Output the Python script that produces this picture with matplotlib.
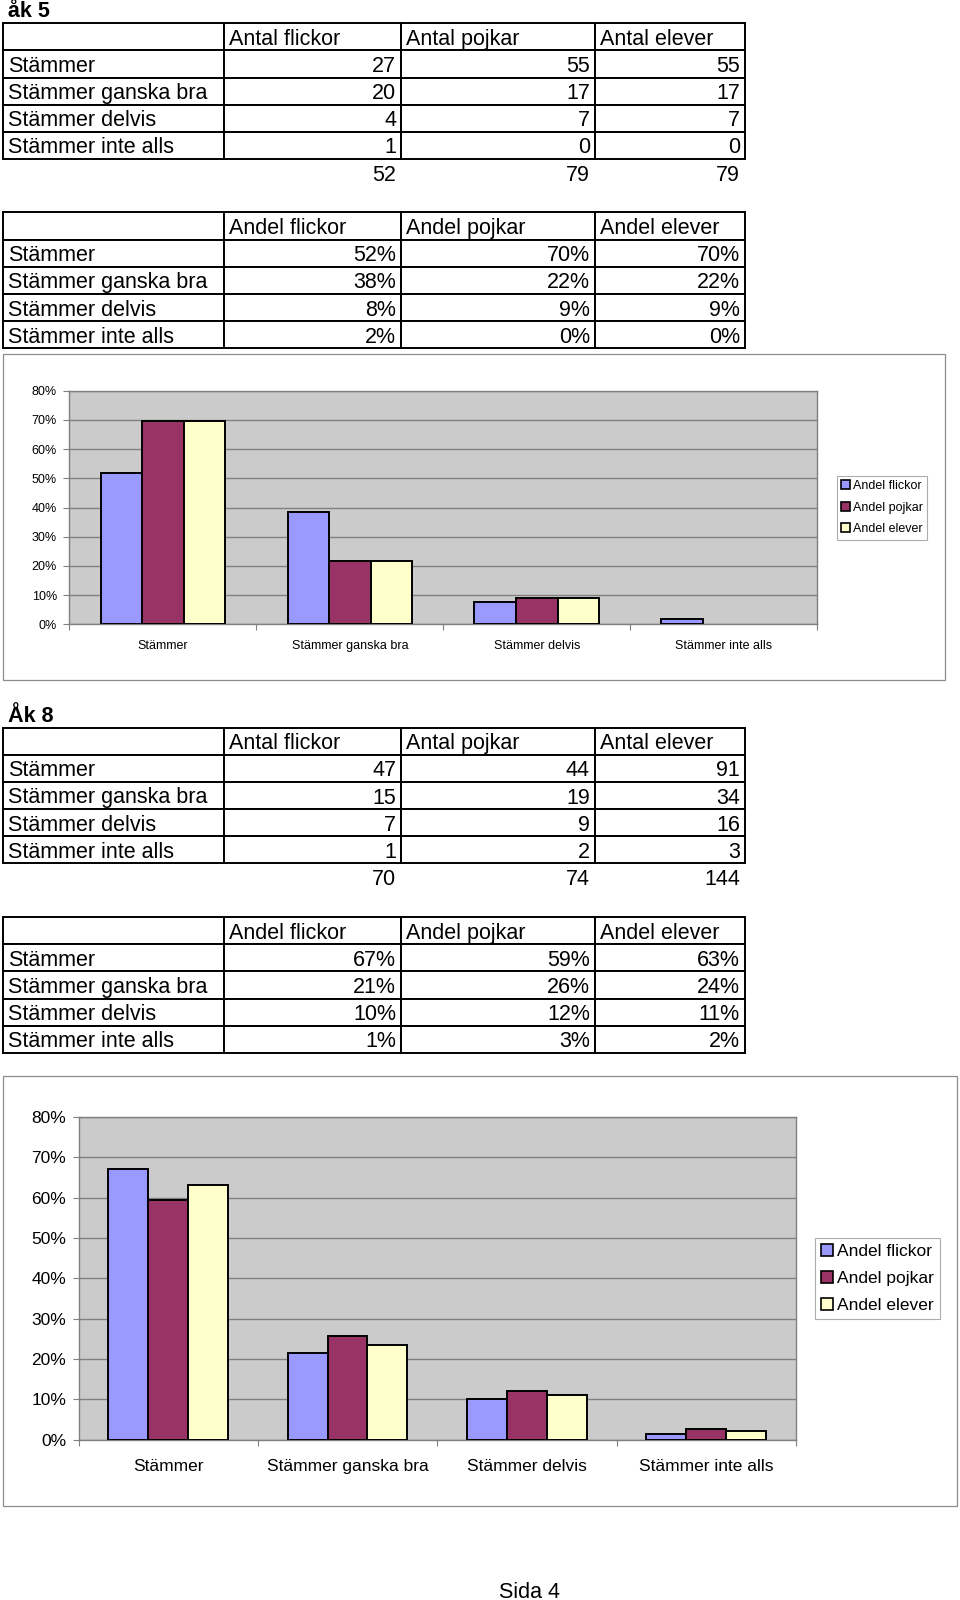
import matplotlib
matplotlib.use("Agg")
import matplotlib.pyplot as plt
import numpy as np
from matplotlib.patches import Rectangle
from matplotlib.table import Table
from matplotlib.ticker import PercentFormatter

plt.rcParams['font.family'] = ['Liberation Sans', 'DejaVu Sans']

# ---- data -------------------------------------------------------------
categories = ['Stämmer', 'Stämmer ganska bra', 'Stämmer delvis', 'Stämmer inte alls']
count_cols = ['Antal flickor', 'Antal pojkar', 'Antal elever']
share_cols = ['Andel flickor', 'Andel pojkar', 'Andel elever']

ak5_flickor = [27, 20, 4, 1]
ak5_pojkar = [55, 17, 7, 0]
ak5_elever = [55, 17, 7, 0]
ak5_totals = [52, 79, 79]

ak5_andel_flickor = [0.519, 0.384, 0.077, 0.019]
ak5_andel_pojkar = [0.696, 0.216, 0.089, 0.0]
ak5_andel_elever = [0.696, 0.216, 0.089, 0.0]

ak8_flickor = [47, 15, 7, 1]
ak8_pojkar = [44, 19, 9, 2]
ak8_elever = [91, 34, 16, 3]
ak8_totals = [70, 74, 144]

ak8_andel_flickor = [0.671, 0.214, 0.100, 0.014]
ak8_andel_pojkar = [0.594, 0.257, 0.122, 0.027]
ak8_andel_elever = [0.632, 0.236, 0.111, 0.021]

series_colors = ['#9999FF', '#993366', '#FFFFCC']

# ---- layout helpers (pixel coords, origin top-left) --------------------
W, H = 960, 1600
fig = plt.figure(figsize=(W / 100, H / 100), dpi=100)


def px_box(x0, y0, x1, y1):
    return [x0 / W, 1 - y1 / H, (x1 - x0) / W, (y1 - y0) / H]


bg = fig.add_axes([0, 0, 1, 1])
bg.set_xlim(0, W)
bg.set_ylim(H, 0)
bg.axis('off')

col_edges = [3, 224.4, 401, 594.8, 744.8]
col_widths = np.diff(col_edges)
TABLE_FS = 15.5


def draw_table(y0, row_h, header, columns, fmt, totals=None):
    nrows = 5 + (1 if totals is not None else 0)
    y1 = y0 + row_h * nrows
    ax = fig.add_axes(px_box(col_edges[0], y0, col_edges[-1], y1))
    ax.axis('off')
    tbl = Table(ax, bbox=[0, 0, 1, 1])
    wfrac = col_widths / col_widths.sum()
    h = 1 / nrows

    def add(r, c, text, loc, edges='closed'):
        cell = tbl.add_cell(r, c, wfrac[c], h, text=text, loc=loc,
                            edgecolor='black')
        cell.visible_edges = edges
        cell.PAD = 5 / col_widths[c]
        cell.set_linewidth(1.4)
        cell.get_text().set_va('center_baseline')
        return cell

    add(0, 0, '', 'left')
    for c, name in enumerate(header):
        add(0, c + 1, name, 'left')
    for r, cat in enumerate(categories):
        add(r + 1, 0, cat, 'left')
        for c, col in enumerate(columns):
            add(r + 1, c + 1, fmt(col[r]), 'right')
    if totals is not None:
        add(5, 0, '', 'left', 'open')
        for c, t in enumerate(totals):
            add(5, c + 1, str(t), 'right', 'open')
    tbl.auto_set_font_size(False)
    tbl.set_fontsize(TABLE_FS)
    ax.add_table(tbl)


def draw_chart(frame, plot, leg_center, shares, fs, xpad, leg_spacing):
    fx0, fy0, fx1, fy1 = frame
    bg.add_patch(Rectangle((fx0, fy0), fx1 - fx0, fy1 - fy0, fill=False,
                           ec='#8c8c8c', lw=0.9))
    ax = fig.add_axes(px_box(*plot))
    ax.set_facecolor('#cbcbcb')
    bw = 1 / 4.5
    x = np.arange(len(categories)) + 0.5
    for k, (vals, color, label) in enumerate(zip(shares, series_colors, share_cols)):
        lws = [1.4 if v > 0 else 0 for v in vals]
        ax.bar(x + (k - 1) * bw, vals, bw, color=color, edgecolor='black',
               linewidth=lws, label=label, zorder=3)
    ax.set_xlim(0, 4)
    ax.set_ylim(0, 0.8)
    ax.set_yticks(np.arange(0, 0.81, 0.1))
    ax.yaxis.set_major_formatter(PercentFormatter(1.0, decimals=0))
    ax.grid(axis='y', color='#808080', lw=1.0, zorder=1)
    ax.set_axisbelow(True)
    ax.set_xticks(range(5))
    ax.set_xticklabels([])
    ax.set_xticks(x, minor=True)
    ax.set_xticklabels(categories, minor=True)
    ax.tick_params(axis='x', which='minor', length=0, pad=xpad, labelsize=fs)
    ax.tick_params(axis='both', which='major', length=4, color='#808080',
                   direction='out', labelsize=fs, pad=5)
    for sp in ax.spines.values():
        sp.set_color('#808080')
        sp.set_linewidth(1.0)
    leg = ax.legend(loc='center', bbox_to_anchor=(leg_center[0] / W, 1 - leg_center[1] / H),
                    bbox_transform=fig.transFigure, fontsize=fs, frameon=True,
                    fancybox=False, edgecolor='#999999', handlelength=0.7,
                    handleheight=0.7, handletextpad=0.25, labelspacing=leg_spacing,
                    borderpad=0.35, borderaxespad=0)
    leg.get_frame().set_linewidth(0.8)
    for hnd in leg.legend_handles:
        hnd.set_linewidth(1.2)
    return ax


# ---- åk 5 ---------------------------------------------------------------
bg.text(8, 17, 'åk 5', fontsize=15.5, fontweight='bold', va='baseline')
draw_table(23.3, 27.14, count_cols, [ak5_flickor, ak5_pojkar, ak5_elever],
           lambda v: str(v), totals=ak5_totals)
draw_table(212.3, 27.2, share_cols,
           [ak5_andel_flickor, ak5_andel_pojkar, ak5_andel_elever],
           lambda v: f'{v:.0%}')
draw_chart((3, 354, 945, 680), (69.4, 390.7, 817.2, 624.4), (882, 507.5),
           [ak5_andel_flickor, ak5_andel_pojkar, ak5_andel_elever],
           fs=9, xpad=11, leg_spacing=0.77)

# ---- Åk 8 ---------------------------------------------------------------
bg.text(8, 722, 'Åk 8', fontsize=15.5, fontweight='bold', va='baseline')
draw_table(727.7, 27.12, count_cols, [ak8_flickor, ak8_pojkar, ak8_elever],
           lambda v: str(v), totals=ak8_totals)
draw_table(917.2, 27.12, share_cols,
           [ak8_andel_flickor, ak8_andel_pojkar, ak8_andel_elever],
           lambda v: f'{v:.0%}')
draw_chart((3, 1076, 957, 1506), (78.6, 1116.9, 795.8, 1439.8), (877.3, 1278.5),
           [ak8_andel_flickor, ak8_andel_pojkar, ak8_andel_elever],
           fs=12.5, xpad=14, leg_spacing=0.7)

bg.text(529.5, 1592, 'Sida 4', fontsize=15.5, ha='center', va='center')

fig.savefig('out.png', dpi=100)
